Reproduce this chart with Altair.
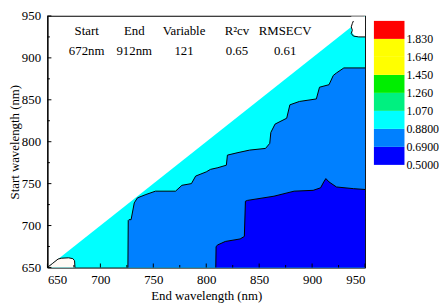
import altair as alt
import pandas as pd

# ---- data (end wavelength, start wavelength, nm) ----
diag_end = [650, 950]
diag_start = [650, 950]

mid_end = [726, 726.3, 727, 729, 732, 735, 743, 752, 771, 777, 786, 790, 800, 804, 811, 819,
           820, 830, 841, 856, 860, 861, 865, 876, 879, 888, 904, 907, 916, 920, 923, 930, 950]
mid_start = [650, 706, 707, 707, 727, 733, 737, 741, 741, 748, 750, 759, 764, 767, 769, 772,
             784, 787, 790, 792, 798, 811, 821, 828, 844, 848, 851, 865, 868, 879, 882, 888, 888]

low_end = [809, 809.3, 811, 818, 832, 836, 837, 839, 864, 883, 901, 908, 911, 913, 916, 923, 939, 950]
low_start = [650, 675, 677, 681, 684, 687, 729, 730, 735, 741, 742, 745, 752, 756, 752, 746, 744, 743]

blob1_end = [650, 655, 660, 663, 670, 674, 675.6, 676]
blob1_start = [650, 655, 660, 661, 661.5, 660.5, 658, 650]

blob2_fill_end = [937, 938, 940, 945, 950]
blob2_fill_start = [936, 930, 926.5, 925, 925]
blob2_line_end = [939, 938, 937, 938, 937, 939, 944, 950]
blob2_line_start = [944, 941, 937, 933, 929, 926, 925, 925]

region_value = {"cyan": 0.97, "mid": 0.78, "low": 0.60}

levels = [0.5, 0.69, 0.88, 1.07, 1.26, 1.45, 1.64, 1.83, 2.02]
level_colors = ["#0000FF", "#0080FF", "#00FFFF", "#00F080", "#00EE00",
                "#FFFF00", "#FF8000", "#FF0000"]

header_labels = ["Start", "End", "Variable", "R²cv", "RMSECV"]
header_values = ["672nm", "912nm", "121", "0.65", "0.61"]
header_end = [687, 732, 779, 829, 874.5]
header_rows = [931.6, 908.6]

major_ticks = [650, 700, 750, 800, 850, 900, 950]
minor_ticks = [675, 725, 775, 825, 875, 925]

FONT = "Liberation Serif"
W, H = 322, 255

xs = alt.Scale(domain=[650, 950], nice=False, zero=False)
ys = alt.Scale(domain=[650, 950], nice=False, zero=False)
cs = alt.Scale(type="quantize", domain=[levels[0], levels[-1]], range=level_colors, nice=False, zero=False)


def region(ends, starts, val):
    return pd.DataFrame({"end": ends, "start": starts, "value": val})


cyan_df = region(diag_end, diag_start, region_value["cyan"])
mid_df = region(mid_end, mid_start, region_value["mid"])
low_df = region(low_end, low_start, region_value["low"])

x_enc = alt.X("end:Q", scale=xs, axis=alt.Axis(
    title="End wavelength (nm)", values=major_ticks, format="d", ticks=False,
    labelPadding=6, titlePadding=4, grid=False))
y_enc = alt.Y("start:Q", scale=ys, axis=alt.Axis(
    title="Start wavelength (nm)", values=major_ticks, format="d", ticks=False,
    labelPadding=7, titlePadding=0, grid=False))

# The discrete gradient never labels its first entry, and a label sitting exactly on
# the gradient's end is flushed inward; nudge both ends by a negligible amount.
eps = 0.00001
legend = alt.Legend(
    type="gradient", title=None, orient="none", legendX=331, legendY=5,
    values=[levels[0] - eps, levels[0] + eps] + levels[1:-1], labelOverlap=False,
    gradientLength=146, gradientThickness=31, gradientStrokeWidth=0,
    format=".4r",
    labelFont=FONT, labelFontSize=12, labelColor="black", direction="vertical")


def area(df, show_legend=False):
    return alt.Chart(df).mark_area(interpolate="linear").encode(
        x=x_enc, y=y_enc, y2=alt.datum(650),
        color=alt.Color("value:Q", scale=cs, legend=legend if show_legend else None))


def outline(ends, starts):
    df = pd.DataFrame({"end": ends, "start": starts, "i": range(len(ends))})
    return alt.Chart(df).mark_line(color="black", strokeWidth=1).encode(
        x="end:Q", y="start:Q", order="i:Q")


blob1 = alt.Chart(pd.DataFrame({"end": blob1_end, "start": blob1_start})).mark_area(
    color="#FFFAF5").encode(x="end:Q", y="start:Q", y2=alt.datum(650))
blob2 = alt.Chart(pd.DataFrame({"end": blob2_fill_end, "start": blob2_fill_start})).mark_area(
    color="white").encode(x="end:Q", y="start:Q", y2=alt.datum(949.5))

header_df = pd.DataFrame({"end": header_end * 2,
                          "start": [header_rows[0]] * 5 + [header_rows[1]] * 5,
                          "label": header_labels + header_values})
header = alt.Chart(header_df).mark_text(font=FONT, fontSize=13, color="black").encode(
    x="end:Q", y="start:Q", text="label:N")

xticks_major = alt.Chart(pd.DataFrame({"t": major_ticks})).mark_rule(color="black").encode(
    x=alt.X("t:Q", scale=xs), y=alt.value(H), y2=alt.value(H - 4))
xticks_minor = alt.Chart(pd.DataFrame({"t": minor_ticks})).mark_rule(color="black").encode(
    x=alt.X("t:Q", scale=xs), y=alt.value(H), y2=alt.value(H - 2.5))
yticks_major = alt.Chart(pd.DataFrame({"t": major_ticks})).mark_rule(color="black").encode(
    y=alt.Y("t:Q", scale=ys), x=alt.value(0), x2=alt.value(4))
yticks_minor = alt.Chart(pd.DataFrame({"t": minor_ticks})).mark_rule(color="black").encode(
    y=alt.Y("t:Q", scale=ys), x=alt.value(0), x2=alt.value(2.5))

chart = alt.layer(
    area(cyan_df, True), area(mid_df), area(low_df),
    outline(mid_end, mid_start), outline(low_end, low_start),
    blob1, outline(blob1_end, blob1_start),
    blob2, outline(blob2_line_end, blob2_line_start),
    header, xticks_major, xticks_minor, yticks_major, yticks_minor,
).properties(
    width=W, height=H,
    padding={"left": 0, "top": 0, "right": 0, "bottom": 0},
).configure_view(
    stroke="black", strokeWidth=1.2
).configure_axis(
    labelFont=FONT, titleFont=FONT, labelFontSize=13, titleFontSize=13,
    labelColor="black", titleColor="black", titleFontWeight="normal",
    domainColor="black", domain=True,
)

chart.save("out.html", embed_options={"renderer": "svg", "actions": False})
